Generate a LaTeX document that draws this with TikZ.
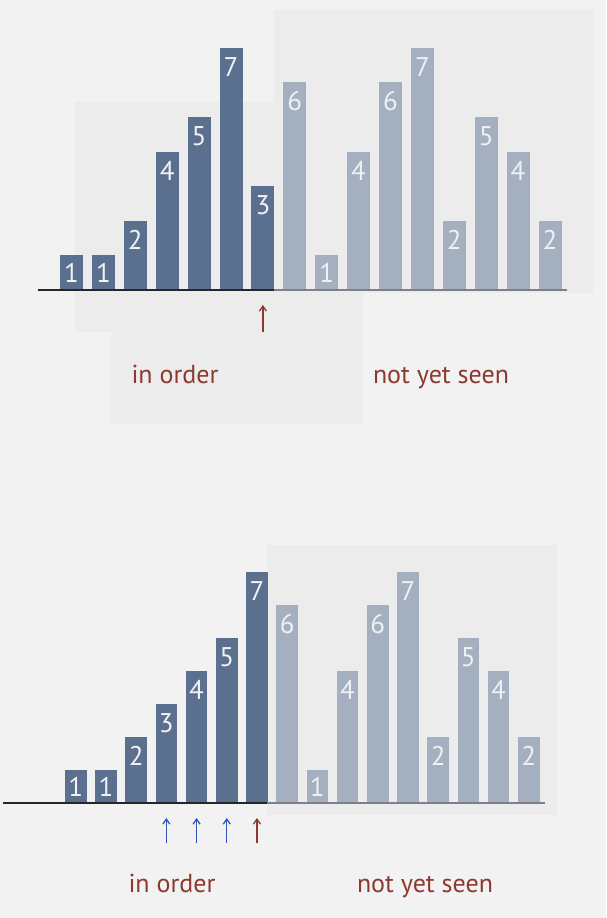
\documentclass[tikz,border=0pt]{standalone}
\usepackage{fontspec}
\setmainfont{PT Sans}
\usetikzlibrary{calc,arrows.meta}
\definecolor{bg}{HTML}{F2F2F2}
\definecolor{panel}{HTML}{ECECEC}
\definecolor{darkbar}{HTML}{5B6F8E}
\definecolor{lightbar}{HTML}{A4AFC0}
\definecolor{darkdigit}{HTML}{F2F3F5}
\definecolor{lightdigit}{HTML}{EEF0F3}
\definecolor{lbl}{HTML}{8C3A30}
\definecolor{blu}{HTML}{2E57B8}
\definecolor{greyline}{HTML}{7D8185}
\begin{document}
\begin{tikzpicture}[x=1pt,y=-1pt,
  barbase/.style={draw=none, anchor=south, inner sep=0pt, outer sep=0pt},
  darkb/.style={barbase, fill=darkbar},
  lightb/.style={barbase, fill=lightbar},
  darkbd/.style={text=darkdigit},
  lightbd/.style={text=lightdigit},
  digit/.style={inner sep=0pt, font=\fontsize{27}{27}\selectfont},
  caption/.style={text=lbl, font=\fontsize{26}{26}\selectfont, inner sep=0pt, anchor=base},
  redarrow/.style={draw=lbl, line width=1.3pt, -{Straight Barb[length=5pt,width=7pt]}},
  bluearrow/.style={draw=blu, line width=1.3pt, -{Straight Barb[length=5pt,width=7pt]}},
  darkline/.style={draw=black!85, line width=2pt},
  greyln/.style={draw=greyline, line width=2pt}]
\fill[bg] (0,0) rectangle (606,918);
\useasboundingbox (0,0) rectangle (606,918);
% faint panels (top)
\fill[panel] (75,102) rectangle (293,332);
\fill[panel] (111,163) rectangle (363,424);
\fill[panel] (274,10) rectangle (593,293);
% faint panel (bottom)
\fill[panel] (267,545) rectangle (557,815);
% ---------- top bars ----------
\foreach \v/\s [count=\i from 0] in {1/darkb,1/darkb,2/darkb,4/darkb,5/darkb,7/darkb,3/darkb,6/lightb,1/lightb,4/lightb,6/lightb,7/lightb,2/lightb,5/lightb,4/lightb,2/lightb}{
  \pgfmathsetmacro{\xc}{71.5+31.9*\i}
  \pgfmathsetmacro{\h}{34.6*\v}
  \pgfmathsetmacro{\dy}{min(19,17*\v)}
  \node[\s, minimum width=23pt, minimum height=\h pt] (t\i) at (\xc,290) {};
  \node[digit, \s d] (td\i) at ($(t\i.north)+(0,\dy)$) {\v};
}
\coordinate (tl0) at (38,290);
\coordinate (tl1) at (274,290);
\coordinate (tl2) at (567,290);
\draw[darkline] (tl0) -- (tl1);
\draw[greyln] (tl1) -- (tl2);
\coordinate (ta) at ($(t6.south)+(0,42)$);
\draw[redarrow] (ta) -- ($(t6.south)+(0,15)$);
\node[caption] (tin) at (175,383) {in order};
\node[caption] (tns) at (441,383) {not yet seen};
% ---------- bottom bars ----------
\foreach \v/\s [count=\i from 0] in {1/darkb,1/darkb,2/darkb,3/darkb,4/darkb,5/darkb,7/darkb,6/lightb,1/lightb,4/lightb,6/lightb,7/lightb,2/lightb,5/lightb,4/lightb,2/lightb}{
  \pgfmathsetmacro{\xc}{75.75+30.2*\i}
  \pgfmathsetmacro{\h}{33*\v}
  \pgfmathsetmacro{\dy}{min(19,16.5*\v)}
  \node[\s, minimum width=21.5pt, minimum height=\h pt] (b\i) at (\xc,803) {};
  \node[digit, \s d] (bd\i) at ($(b\i.north)+(0,\dy)$) {\v};
}
\coordinate (bl0) at (3,803);
\coordinate (bl1) at (267,803);
\coordinate (bl2) at (545,803);
\draw[darkline] (bl0) -- (bl1);
\draw[greyln] (bl1) -- (bl2);
\foreach \k in {3,4,5}{
  \draw[bluearrow] ($(b\k.south)+(0,40)$) -- ($(b\k.south)+(0,15)$);
}
\draw[redarrow] ($(b6.south)+(0,40)$) -- ($(b6.south)+(0,15)$);
\node[caption] (bin) at (172,892) {in order};
\node[caption] (bns) at (425,892) {not yet seen};
\end{tikzpicture}
\end{document}
